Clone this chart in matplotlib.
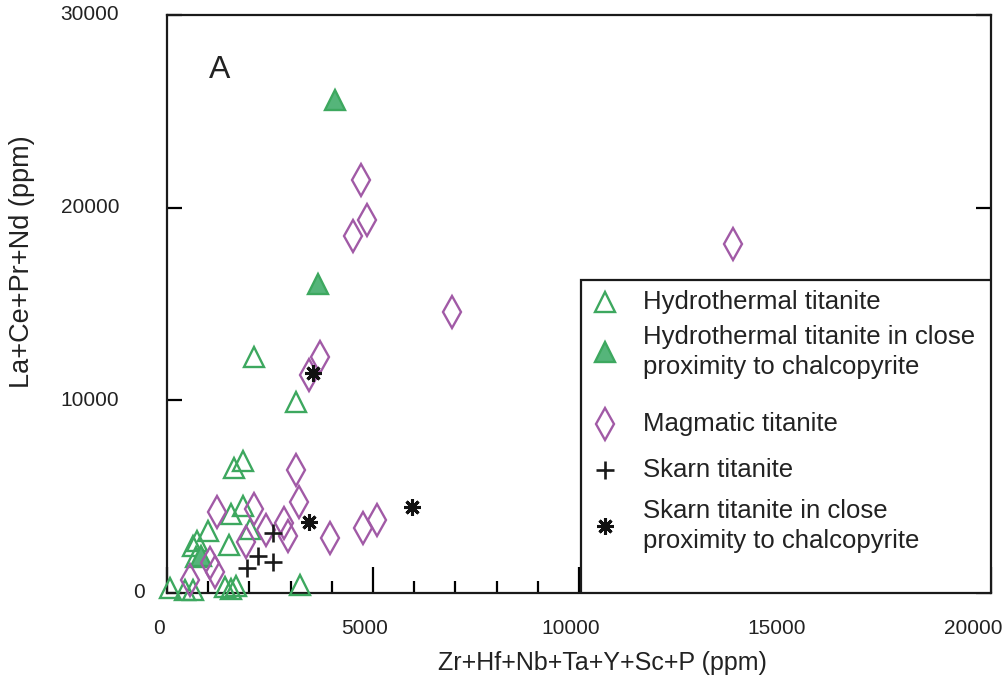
import matplotlib
matplotlib.use("Agg")
import matplotlib.pyplot as plt
from matplotlib.lines import Line2D
from matplotlib.patches import Rectangle
from matplotlib.transforms import offset_copy

# Hydrothermal titanite (open triangles)
hydro_x = [2112, 3131, 1626, 1845, 1845, 1553, 2015, 995, 1505, 631, 728, 704,
           73, 437, 631, 1408, 1553, 1675, 3228]
hydro_y = [12247, 9912, 6487, 6850, 4515, 4100, 3321, 3217, 2491, 2439, 2698, 1868,
           259, 156, 156, 311, 208, 363, 415]

# Hydrothermal titanite close to chalcopyrite (filled triangles)
hydro_cpy_x = [4078, 3665, 825]
hydro_cpy_y = [25584, 16035, 1920]

# Magmatic titanite (diamonds)
mag_x = [13738, 6917, 4709, 4854, 4515, 3714, 3447, 3131, 3204, 3956, 5097, 4757,
         1214, 2112, 2403, 2840, 2937, 1917, 1044, 1165, 558]
mag_y = [18111, 14582, 21432, 19356, 18526, 12247, 11313, 6383, 4722, 2854, 3788, 3373,
         4203, 4359, 3269, 3633, 2958, 2647, 1557, 1090, 675]

# Skarn titanite (plus)
skarn_x = [2573, 1942, 2209, 2573]
skarn_y = [3114, 1297, 1920, 1609]

# Skarn titanite close to chalcopyrite (asterisk)
skarn_cpy_x = [3544, 3447, 5947]
skarn_cpy_y = [11417, 3684, 4463]

x_ticks = [0, 5000, 10000, 15000, 20000]
y_ticks = [0, 10000, 20000, 30000]

green = "#3da85f"
green_fill = "#55b57a"
purple = "#a15aa6"

sans = ["Liberation Sans", "DejaVu Sans"]

fig = plt.figure(figsize=(10.08, 6.85), dpi=100)
ax = fig.add_axes([167 / 1008, 92 / 685, 824 / 1008, 578 / 685])
ax.set_xlim(0, 20000)
ax.set_ylim(0, 30000)

tri_open = dict(marker="^", markersize=14, markerfacecolor="none",
                markeredgecolor=green, markeredgewidth=1.7)
tri_fill = dict(marker="^", markersize=14, markerfacecolor=green_fill,
                markeredgecolor=green, markeredgewidth=1.7)
diamond = dict(marker="d", markersize=16, markerfacecolor="none",
               markeredgecolor=purple, markeredgewidth=1.7)
plus = dict(marker="+", markersize=13, color="#1a1a1a", markeredgewidth=1.9)
aster = dict(marker=(8, 2, 0), markersize=12, color="#111111", markeredgewidth=2.2)

ms_kw = dict(linestyle="none", clip_on=False)
ax.plot(hydro_x, hydro_y, zorder=4, **tri_open, **ms_kw)
ax.plot(hydro_cpy_x, hydro_cpy_y, zorder=4, **tri_fill, **ms_kw)
ax.plot(mag_x, mag_y, zorder=4, **diamond, **ms_kw)
ax.plot(skarn_x, skarn_y, zorder=5, **plus, **ms_kw)
ax.plot(skarn_cpy_x, skarn_cpy_y, zorder=5, **aster, **ms_kw)

# Frame and ticks
for s in ax.spines.values():
    s.set_linewidth(1.6)
    s.set_color("#1a1a1a")
ax.set_xticks(x_ticks)
ax.set_xticks(range(0, 20001, 1000), minor=True)
ax.set_yticks(y_ticks)
ax.tick_params(axis="x", which="major", direction="in", length=19, width=1.6,
               labelbottom=False)
ax.tick_params(axis="x", which="minor", direction="in", length=9, width=1.6)
ax.tick_params(axis="y", which="major", direction="in", length=11, width=1.6,
               left=True, right=True, labelleft=False)

xt = ax.get_xaxis_transform()
for v in x_ticks:
    dx = -18 if v == x_ticks[-1] else -8
    ax.text(v, 0, str(v), transform=offset_copy(xt, fig=fig, x=dx, y=-35, units="dots"),
            ha="center", va="center", fontsize=15, family=sans, color="#222222")
yt = ax.get_yaxis_transform()
for v in y_ticks:
    dx = -22 if v == 0 else -48
    ax.text(0, v, str(v), transform=offset_copy(yt, fig=fig, x=dx, y=0, units="dots"),
            ha="right", va="center", fontsize=15, family=sans, color="#222222")

fig.text(602 / 1008, 1 - 663 / 685, "Zr+Hf+Nb+Ta+Y+Sc+P (ppm)", ha="center", va="center",
         fontsize=18, family=sans, color="#222222")
fig.text(22 / 1008, 1 - 262 / 685, "La+Ce+Pr+Nd (ppm)", ha="center", va="center",
         rotation=90, fontsize=19.5, family=sans, color="#222222")

ax.text(1286, 27141, "A", ha="center", va="center", fontsize=23, family=sans,
        color="#222222")

# Legend panel
lx0 = (581 - 167) / 824
ltop = (593 - 280) / 578
ax.add_patch(Rectangle((lx0, 0), 1 - lx0, ltop, transform=ax.transAxes,
                       facecolor="white", edgecolor="#1a1a1a", linewidth=1.6, zorder=6))


def yfrac(py):
    return (593 - py) / 578


mx = (605 - 167) / 824
tx = (643 - 167) / 824
entries = [
    (302, tri_open, "Hydrothermal titanite"),
    (352, tri_fill, "Hydrothermal titanite in close\nproximity to chalcopyrite"),
    (424, diamond, "Magmatic titanite"),
    (470, plus, "Skarn titanite"),
    (526, aster, "Skarn titanite in close\nproximity to chalcopyrite"),
]
for py, mkw, label in entries:
    ax.add_line(Line2D([mx], [yfrac(py)], transform=ax.transAxes, linestyle="none",
                       zorder=7, **mkw))
    ax.text(tx, yfrac(py), label, transform=ax.transAxes, ha="left", va="center",
            fontsize=18.5, family=sans, color="#222222", linespacing=1.3, zorder=7)

fig.savefig("out.png", dpi=100)
